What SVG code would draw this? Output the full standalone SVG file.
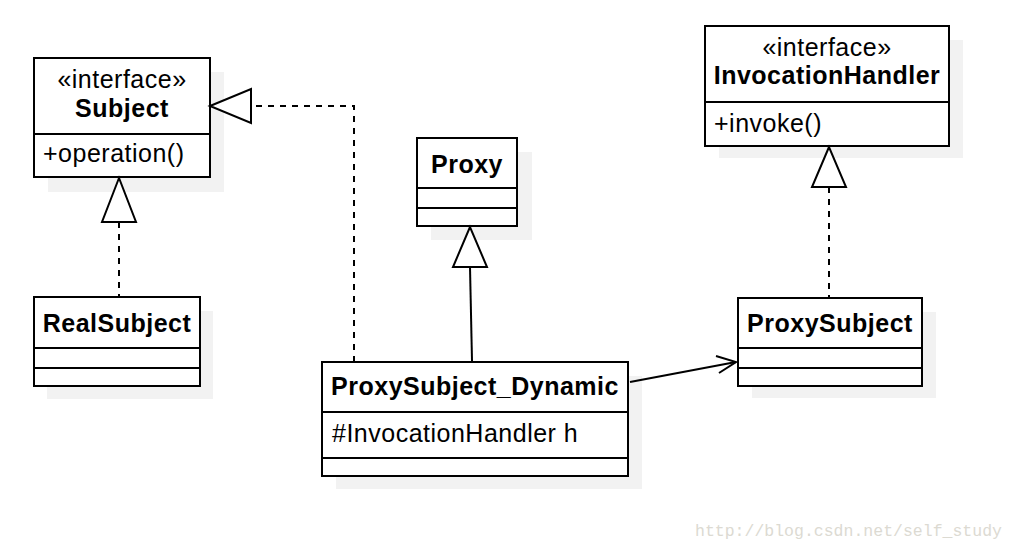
<svg xmlns="http://www.w3.org/2000/svg" width="1016" height="550" viewBox="0 0 1016 550">
<style>
.shadow{fill:#f2f2f2;stroke:none}
.box{fill:#fff;stroke:#000;stroke-width:2}
.div{stroke:#000;stroke-width:2}
.t{font-family:"Liberation Sans",Arial,sans-serif;font-size:25px;letter-spacing:0.5px;fill:#000}
.b{font-weight:bold}
.c{text-anchor:middle}
.edge{fill:none;stroke:#000;stroke-width:2}
.dash{stroke-dasharray:6,6}
.tri{fill:#fff;stroke:#000;stroke-width:2}
.wm{font-family:"Liberation Mono","DejaVu Sans Mono",monospace;font-size:16.5px;fill:#dcdad2}
</style>
<rect width="1016" height="550" fill="#fff"/>
<g id="Subject">
<rect class="shadow" x="48" y="72" width="176" height="120"/>
<rect class="box" x="34" y="58" width="176" height="119"/>
<line class="div" x1="34" y1="134" x2="210" y2="134"/>
<text class="t c" x="122" y="88">«interface»</text>
<text class="t b c" x="122" y="117">Subject</text>
<text class="t" x="43" y="162">+operation()</text>
</g>
<g id="RealSubject">
<rect class="shadow" x="47" y="311" width="166" height="88"/>
<rect class="box" x="34" y="297" width="166" height="89"/>
<line class="div" x1="34" y1="348" x2="200" y2="348"/>
<line class="div" x1="34" y1="368" x2="200" y2="368"/>
<text class="t b c" x="117" y="332">RealSubject</text>
</g>
<g id="Proxy">
<rect class="shadow" x="431" y="152" width="101" height="88"/>
<rect class="box" x="417" y="138" width="100" height="88"/>
<line class="div" x1="417" y1="188" x2="517" y2="188"/>
<line class="div" x1="417" y1="208" x2="517" y2="208"/>
<text class="t b c" x="467" y="173">Proxy</text>
</g>
<g id="ProxySubject_Dynamic">
<rect class="shadow" x="336" y="376" width="306" height="113"/>
<rect class="box" x="322" y="362" width="306" height="114"/>
<line class="div" x1="322" y1="412" x2="628" y2="412"/>
<line class="div" x1="322" y1="458" x2="628" y2="458"/>
<text class="t b c" x="475" y="395">ProxySubject_Dynamic</text>
<text class="t" x="332" y="442">#InvocationHandler h</text>
</g>
<g id="InvocationHandler">
<rect class="shadow" x="719" y="40" width="244" height="118"/>
<rect class="box" x="705" y="26" width="244" height="120"/>
<line class="div" x1="705" y1="102" x2="949" y2="102"/>
<text class="t c" x="827" y="56">«interface»</text>
<text class="t b c" x="827" y="84">InvocationHandler</text>
<text class="t" x="714" y="132">+invoke()</text>
</g>
<g id="ProxySubject">
<rect class="shadow" x="752" y="312" width="184" height="86"/>
<rect class="box" x="738" y="298" width="184" height="88"/>
<line class="div" x1="738" y1="348" x2="922" y2="348"/>
<line class="div" x1="738" y1="368" x2="922" y2="368"/>
<text class="t b c" x="830" y="332">ProxySubject</text>
</g>
<g id="connectors">
<polyline class="edge dash" points="354,362 354,106 252,106"/>
<polygon class="tri" points="210,106 251,89 251,123"/>
<line class="edge dash" x1="119" y1="222" x2="119" y2="297"/>
<polygon class="tri" points="119,178 102,222 136,222"/>
<line class="edge" x1="470" y1="267" x2="472" y2="361"/>
<polygon class="tri" points="470,227 453,267 487,267"/>
<line class="edge dash" x1="829" y1="187" x2="829" y2="298"/>
<polygon class="tri" points="829,147 812,187 846,187"/>
<line class="edge" x1="630" y1="382" x2="736" y2="362"/>
<polyline class="edge" points="716,356 736,362 719,373"/>
</g>
<text class="wm" x="695" y="536">http://blog.csdn.net/self_study</text>
</svg>
